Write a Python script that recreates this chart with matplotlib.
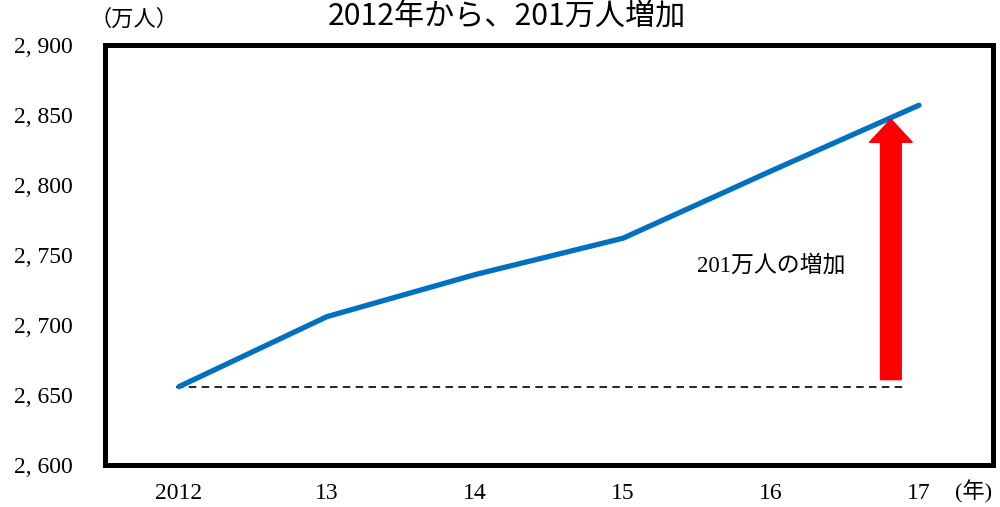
from matplotlib import pyplot as plt
from matplotlib.patches import FancyArrow

plt.rcParams['font.family'] = ['Liberation Serif', 'Noto Sans CJK JP']

years = ['2012', '13', '14', '15', '16', '17']
population = [2656, 2706, 2736, 2762, 2810, 2857]
y_ticks = [2600, 2650, 2700, 2750, 2800, 2850, 2900]
y_tick_labels = ['2, 600', '2, 650', '2, 700', '2, 750', '2, 800', '2, 850', '2, 900']

fig = plt.figure(figsize=(10, 5.07), dpi=100)
ax = fig.add_axes([0.105, 0.0828, 0.888, 0.8284])

x = list(range(len(years)))
ax.plot(x, population, color='#0070C0', linewidth=3.8, solid_capstyle='round', zorder=3)

# baseline from the 2012 value
ax.plot([-0.02, 4.89], [population[0], population[0]], color='black',
        linestyle=(0, (4.5, 3.2)), linewidth=1.2, zorder=2)

# red arrow showing the increase
arrow_x = 4.81
ax.add_patch(FancyArrow(arrow_x, population[0] + 5, 0, population[-1] - population[0] - 15,
                        width=0.14, head_width=0.29, head_length=16.5,
                        length_includes_head=True, color='red', zorder=4))

ax.text(4.0, 2742, '201万人の増加', ha='center', va='center', fontsize=16.5,
        family=['Liberation Serif', 'Noto Sans CJK JP'])

ax.set_xlim(-0.5, 5.5)
ax.set_ylim(2600, 2900)
ax.set_xticks(x)
ax.set_xticklabels(years, fontsize=17)
ax.set_yticks(y_ticks)
ax.set_yticklabels(y_tick_labels, fontsize=17)
ax.tick_params(axis='both', length=0)
ax.tick_params(axis='x', pad=13)
ax.tick_params(axis='y', pad=23)

for sp in ax.spines.values():
    sp.set_linewidth(3.6)
    sp.set_color('black')
    sp.set_capstyle('projecting')

fig.text(0.5065, 0.967, '2012年から、201万人増加', ha='center', va='center',
         fontsize=21.7, family=['Noto Sans CJK JP'])
fig.text(0.134, 0.962, '（万人）', ha='center', va='center', fontsize=16,
         family=['Noto Sans CJK JP'])
fig.text(0.9735, 0.029, '(年)', ha='center', va='center', fontsize=16,
         family=['Liberation Serif', 'Noto Sans CJK JP'])

fig.savefig('out.png', dpi=100)
